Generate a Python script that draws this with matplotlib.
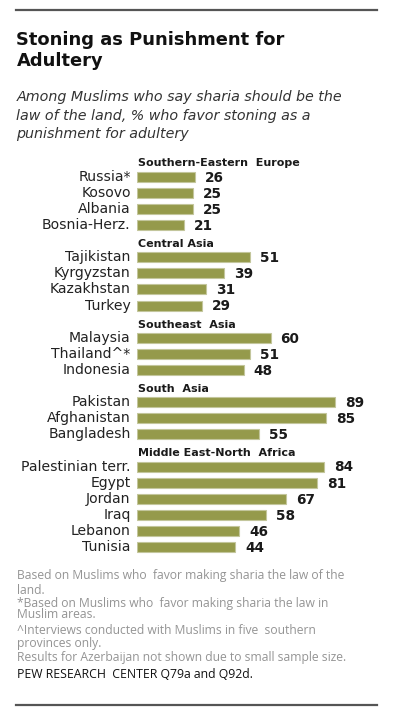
import matplotlib
matplotlib.use("Agg")
import matplotlib.pyplot as plt

# ---- data ----
groups = ["Southern-Eastern  Europe", "Central Asia", "Southeast  Asia",
          "South  Asia", "Middle East-North  Africa"]
countries = [
    ["Russia*", "Kosovo", "Albania", "Bosnia-Herz."],
    ["Tajikistan", "Kyrgyzstan", "Kazakhstan", "Turkey"],
    ["Malaysia", "Thailand^*", "Indonesia"],
    ["Pakistan", "Afghanistan", "Bangladesh"],
    ["Palestinian terr.", "Egypt", "Jordan", "Iraq", "Lebanon", "Tunisia"],
]
values = [
    [26, 25, 25, 21],
    [51, 39, 31, 29],
    [60, 51, 48],
    [89, 85, 55],
    [84, 81, 67, 58, 46, 44],
]

title = "Stoning as Punishment for\nAdultery"
subtitle = ("Among Muslims who say sharia should be the\n"
            "law of the land, % who favor stoning as a\n"
            "punishment for adultery")
notes = ["Based on Muslims who  favor making sharia the law of the",
         "land.",
         "*Based on Muslims who  favor making sharia the law in",
         "Muslim areas.",
         "^Interviews conducted with Muslims in five  southern",
         "provinces only.",
         "Results for Azerbaijan not shown due to small sample size."]
source = "PEW RESEARCH  CENTER Q79a and Q92d."

# ---- layout ----
W, H = 397, 707
fig = plt.figure(figsize=(W / 100, H / 100), dpi=100)

BAR_COLOR = "#959a4b"
EDGE_COLOR = "#c3c69c"

x0_px, px_per_unit = 137, 2.225
row_px, row0_px = 16.11, 176.7
ax_top, ax_bot = 150, 570
ax = fig.add_axes([x0_px / W, 1 - ax_bot / H, 100 * px_per_unit / W, (ax_bot - ax_top) / H])
ax.set_xlim(0, 100)
ax.set_ylim((ax_bot - row0_px) / row_px, (ax_top - row0_px) / row_px)
ax.axis("off")

ypos, labels, vals, headers = [], [], [], []
slot = 0
for gi, (g, cs, vs) in enumerate(zip(groups, countries, values)):
    if gi > 0:
        slot += 1
    headers.append((g, slot - 0.82))
    for c, v in zip(cs, vs):
        ypos.append(slot)
        labels.append(c)
        vals.append(v)
        slot += 1

ax.barh(ypos, vals, height=0.62, color=BAR_COLOR, edgecolor=EDGE_COLOR, linewidth=0.8)

label_gap = 6.3 / px_per_unit
for y, lab, v in zip(ypos, labels, vals):
    ax.text(-label_gap, y, lab, ha="right", va="center", fontsize=10.1,
            color="#222222", clip_on=False)
    ax.text(v + 10 / px_per_unit, y + 0.05, str(v), ha="left", va="center",
            fontsize=9.8, fontweight="bold", color="#1a1a1a", clip_on=False)

for g, y in headers:
    ax.text(0.6, y, g, ha="left", va="center", fontsize=8.0,
            fontweight="bold", color="#1a1a1a", clip_on=False)

fig.text(16.5 / W, 1 - 31 / H, title, ha="left", va="top", fontsize=12.9,
         fontweight="bold", color="#111111", linespacing=1.25)
fig.text(16.5 / W, 1 - 90 / H, subtitle, ha="left", va="top", fontsize=10.25,
         style="italic", color="#333333", linespacing=1.42)

ycs = [576, 590, 603, 615, 631, 643, 657]
for n, yc in zip(notes, ycs):
    fig.text(17 / W, 1 - yc / H, n, ha="left", va="center", fontsize=8.7,
             color="#949494", family="Open Sans")
fig.text(17 / W, 1 - 675 / H, source, ha="left", va="center", fontsize=8.8,
         color="#111111", family="Open Sans")

fig.add_artist(plt.Line2D([16 / W, 377 / W], [1 - 9.5 / H] * 2, color="#555555", lw=1.6))
fig.add_artist(plt.Line2D([16 / W, 377 / W], [1 - 704.5 / H] * 2, color="#555555", lw=1.6))

fig.savefig("out.png", dpi=100, facecolor="white")
